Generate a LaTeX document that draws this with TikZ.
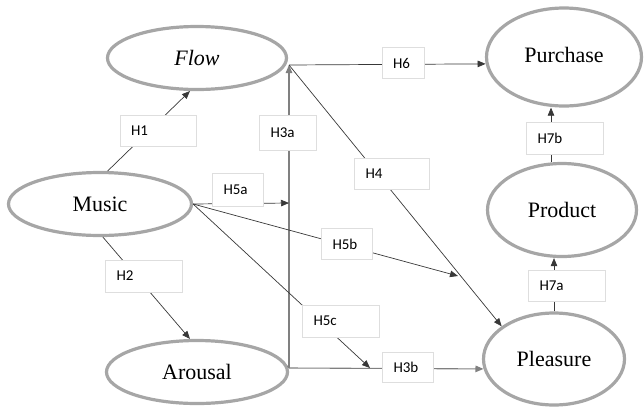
\documentclass[tikz,border=0pt]{standalone}
\usepackage{fontspec}
\setmainfont{Liberation Serif}
\newfontfamily\labfont{Carlito}
\usetikzlibrary{shapes.geometric,arrows.meta}
\tikzset{
  var/.style={ellipse, draw=black!35, line width=3.2pt, fill=white, inner sep=0pt,
    font=\fontsize{22}{24}\selectfont},
  lab/.style 2 args={draw=black!13, line width=0.5pt, fill=white, inner xsep=11pt, inner ysep=0pt,
    text width=#1, minimum height=#2, align=left, font=\labfont\fontsize{15}{17}\selectfont},
  dk/.style={draw=black!78, line width=0.7pt, -{Triangle[length=8pt,width=6.5pt]}},
  dkn/.style={draw=black!78, line width=0.7pt},
  gr/.style={draw=black!50, line width=1.1pt},
  grarr/.style={draw=black!50, line width=1.1pt, -{Triangle[length=8pt,width=6.5pt]}, >={Triangle}},
}
\begin{document}
\begin{tikzpicture}[x=1pt,y=-1pt]
\useasboundingbox (0,0) rectangle (644,410);
% latent variables
\node[var, minimum width=179, minimum height=63] (Flow) at (197,58) {\textit{Flow}};
\node[var, minimum width=183, minimum height=63] (Music) at (100,204) {Music};
\node[var, minimum width=181, minimum height=63] (Arousal) at (197,372) {Arousal};
\node[var, minimum width=155, minimum height=98] (Purchase) at (564,57) {\raisebox{4pt}{Purchase}};
\node[var, minimum width=149, minimum height=93] (Product) at (562,210) {Product};
\node[var, minimum width=141, minimum height=92] (Pleasure) at (554,359) {Pleasure};
% junction points
\coordinate (fc) at (289,65);
\coordinate (ac) at (289,368);
\coordinate (h5a) at (289,203);
\coordinate (h5b) at (458,276);
\coordinate (h5c) at (370,368);
\coordinate (b7) at (551,162);
% connectors
\draw[dk] (Music.77) -- (Flow.258);
\draw[dk] (Music.275) -- (Arousal.102);
\draw[gr] (Arousal.4) -- (ac);
\draw[grarr] (ac) -- (fc);
\draw[grarr] (ac) -- (Pleasure.188);
\draw[dk] (fc) -- (Purchase.185);
\draw[dk] (fc) -- (Pleasure.148);
\draw[dk] (Music.east) -- (h5a);
\draw[dk] (Music.east) -- (h5b);
\draw[dk] (Music.east) -- (h5c);
\draw[dk] (Pleasure.north) -- (Pleasure.north |- Product.south);
\draw[dk] (b7) -- (b7 |- Purchase.south);
% hypothesis labels
\node[lab={54pt}{31pt}] (H1) at (158,131) {H1};
\node[lab={55pt}{32pt}] (H2) at (144,276) {H2};
\node[lab={35pt}{35pt}] (H3a) at (288,133) {H3a};
\node[lab={29pt}{30pt}] (H3b) at (408,367) {H3b};
\node[lab={53pt}{31pt}] (H4) at (392,174) {H4};
\node[lab={29pt}{33pt}] (H5a) at (238,190) {H5a};
\node[lab={29pt}{31pt}] (H5b) at (347,244) {H5b};
\node[lab={55pt}{32pt}] (H5c) at (341,321) {H5c};
\node[lab={20pt}{31pt}] (H6) at (403,63) {H6};
\node[lab={55pt}{31pt}] (H7a) at (567,286) {H7a};
\node[lab={55pt}{32pt}] (H7b) at (565,138) {H7b};
\end{tikzpicture}
\end{document}
